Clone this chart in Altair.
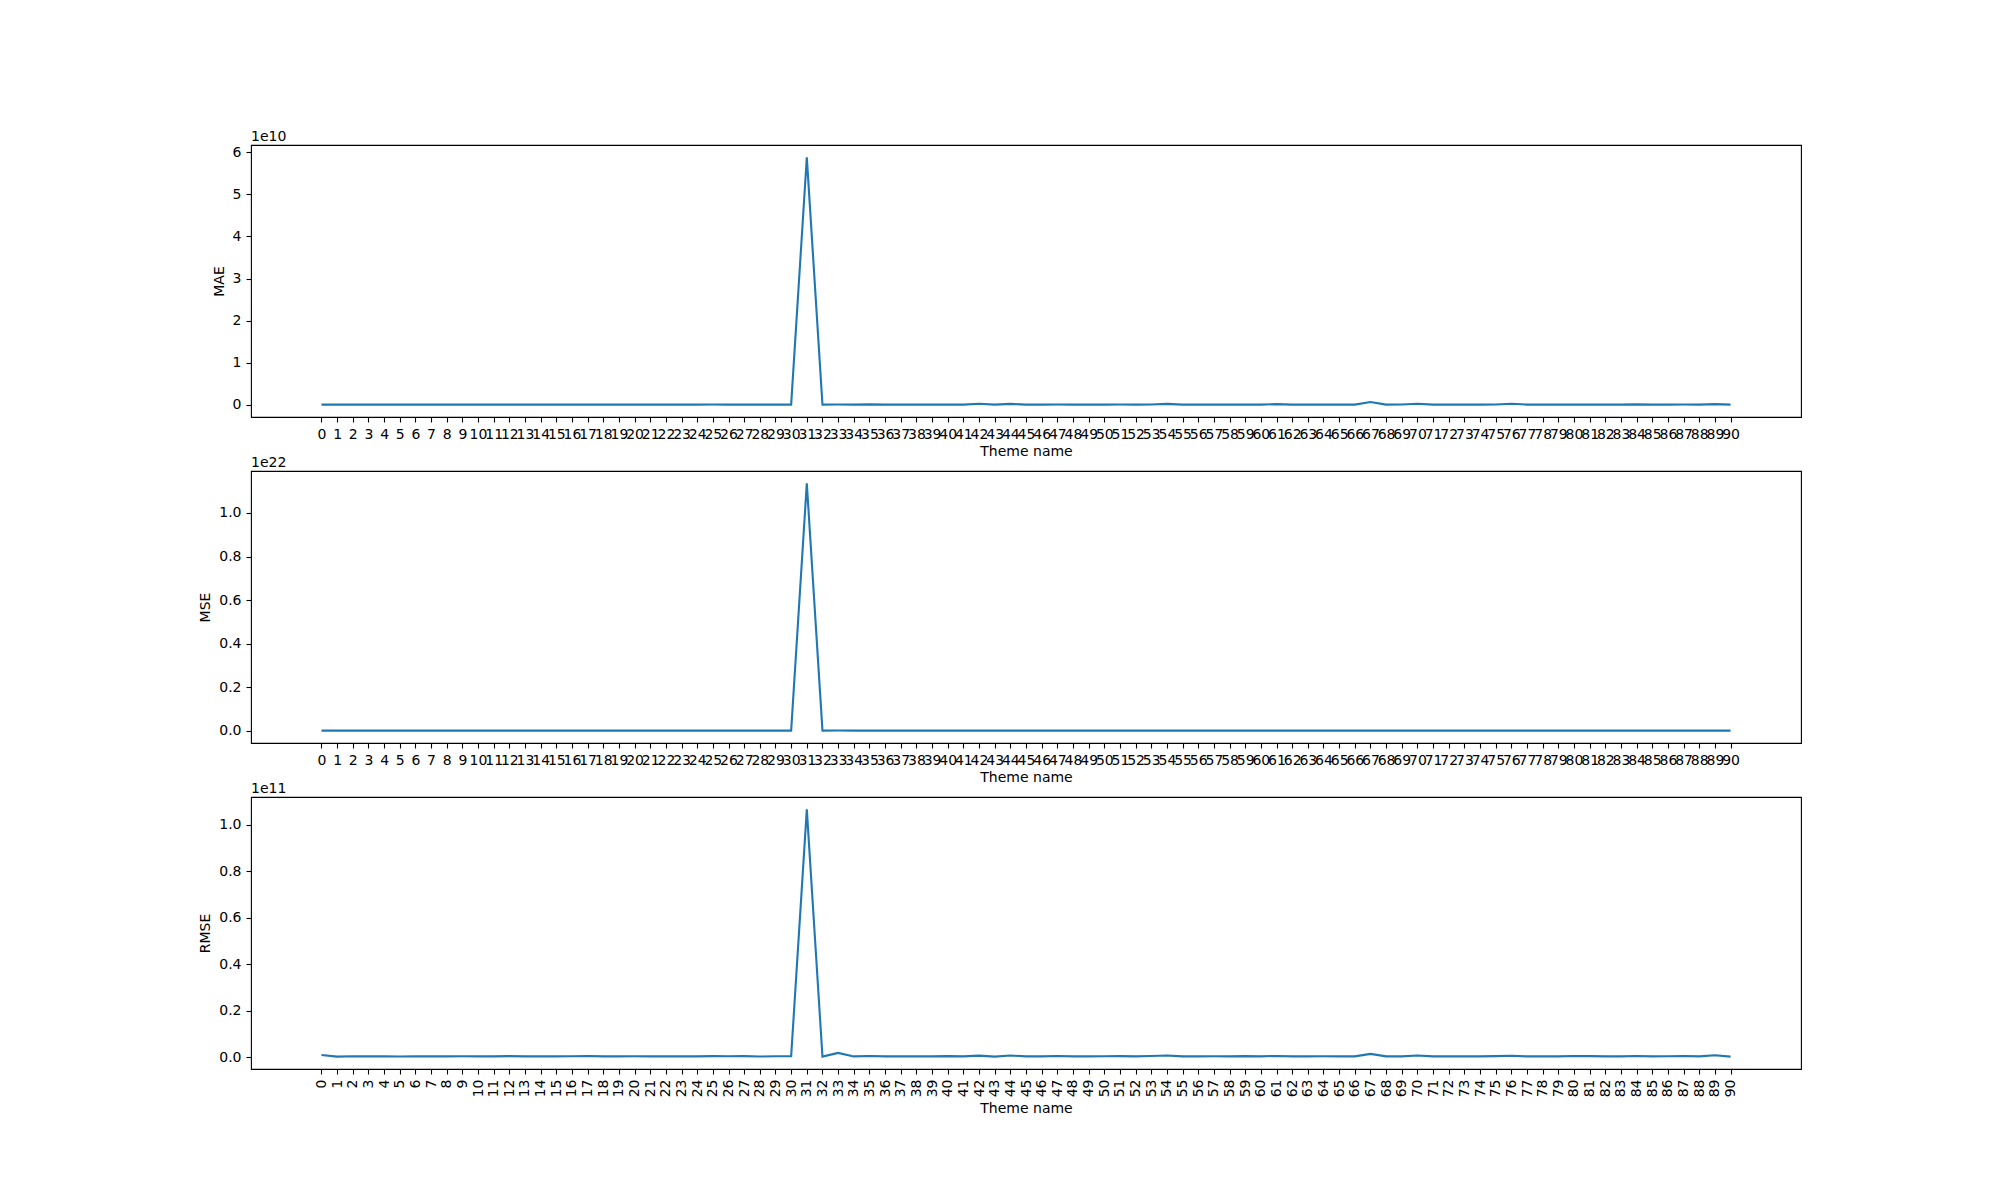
import altair as alt
import pandas as pd

theme = list(range(91))

mae = [
    3e7, 3e7, 3e7, 3e7, 3e7, 3e7, 3e7, 3e7, 3e7, 3e7,
    3e7, 3e7, 3e7, 3e7, 3e7, 3e7, 3e7, 4e7, 3e7, 3e7,
    3e7, 3e7, 3e7, 3e7, 3e7, 6e7, 3e7, 4e7, 3e7, 3e7,
    3e7, 5.88e10, 3e7, 5e7, 4e7, 1e8, 3e7, 3e7, 3e7, 3e7,
    3e7, 4e7, 2.5e8, 3e7, 2e8, 4e7, 4e7, 5e7, 4e7, 4e7,
    4e7, 5e7, 4e7, 5e7, 2e8, 4e7, 3e7, 3e7, 3e7, 3e7,
    3e7, 1.5e8, 4e7, 4e7, 4e7, 4e7, 4e7, 6.5e8, 4e7, 5e7,
    2.5e8, 4e7, 4e7, 4e7, 4e7, 5e7, 2.5e8, 4e7, 4e7, 4e7,
    4e7, 4e7, 4e7, 4e7, 1e8, 4e7, 4e7, 5e7, 4e7, 1.5e8,
    3e7,
]

mse = [
    1.0e18, 9e16, 2.0e17, 1.6e17, 1.6e17, 1.2e17, 1.6e17, 1.6e17, 1.6e17, 2.0e17,
    1.6e17, 1.6e17, 2.5e17, 1.6e17, 1.6e17, 1.6e17, 2.0e17, 3.0e17, 1.6e17, 1.6e17,
    2.0e17, 1.6e17, 1.6e17, 1.6e17, 1.6e17, 2.5e17, 2.0e17, 2.5e17, 1.2e17, 2.0e17,
    2.0e17, 1.136e22, 9e16, 3.6e18, 1.6e17, 3.6e17, 1.6e17, 1.6e17, 1.6e17, 1.6e17,
    2.5e17, 1.6e17, 5.6e17, 9e16, 6.4e17, 1.6e17, 1.6e17, 3.0e17, 1.6e17, 1.6e17,
    2.0e17, 2.5e17, 1.6e17, 3.0e17, 6.4e17, 1.6e17, 1.6e17, 2.0e17, 1.6e17, 2.5e17,
    1.6e17, 3.6e17, 1.6e17, 1.6e17, 2.0e17, 1.6e17, 1.6e17, 2.25e18, 1.6e17, 1.6e17,
    6.4e17, 1.6e17, 1.6e17, 1.6e17, 1.6e17, 2.5e17, 4.9e17, 1.6e17, 1.6e17, 1.6e17,
    3.0e17, 2.5e17, 1.6e17, 1.6e17, 3.0e17, 1.6e17, 2.0e17, 3.0e17, 1.6e17, 8.1e17,
    9e16,
]

rmse = [
    1.0e9, 3e8, 4.5e8, 4e8, 4e8, 3.5e8, 4e8, 4e8, 4e8, 4.5e8,
    4e8, 4e8, 5e8, 4e8, 4e8, 4e8, 4.5e8, 5.5e8, 4e8, 4e8,
    4.5e8, 4e8, 4e8, 4e8, 4e8, 5e8, 4.5e8, 5e8, 3.5e8, 4.5e8,
    4.5e8, 1.066e11, 3e8, 1.9e9, 4e8, 6e8, 4e8, 4e8, 4e8, 4e8,
    5e8, 4e8, 7.5e8, 3e8, 8e8, 4e8, 4e8, 5.5e8, 4e8, 4e8,
    4.5e8, 5e8, 4e8, 5.5e8, 8e8, 4e8, 4e8, 4.5e8, 4e8, 5e8,
    4e8, 6e8, 4e8, 4e8, 4.5e8, 4e8, 4e8, 1.5e9, 4e8, 4e8,
    8e8, 4e8, 4e8, 4e8, 4e8, 5e8, 7e8, 4e8, 4e8, 4e8,
    5.5e8, 5e8, 4e8, 4e8, 5.5e8, 4e8, 4.5e8, 5.5e8, 4e8, 9e8,
    3e8,
]

df = pd.DataFrame({"x": theme, "MAE": mae, "MSE": mse, "RMSE": rmse})

FONT = "DejaVu Sans"
W, H = 1550, 272


def panel(field, scale_exp, tick_vals, fmt, title_x, label_angle, x_title_y, anchor=False):
    vals = df[field]
    lo, hi = float(vals.min()), float(vals.max())
    r = hi - lo
    dom = [lo - 0.05 * r, hi + 0.05 * r]
    div = 10 ** scale_exp
    line = alt.Chart(df).mark_line(color="#1f77b4", strokeWidth=2.1).encode(
        x=alt.X(
            "x:Q",
            scale=alt.Scale(domain=[-4.5, 94.5], nice=False, zero=False),
            axis=alt.Axis(
                values=theme,
                title="Theme name",
                labelAngle=label_angle,
                labelOverlap=False,
                labelFlush=False,
                titleY=x_title_y,
                titleBaseline="top",
            ),
        ),
        y=alt.Y(
            f"{field}:Q",
            scale=alt.Scale(domain=dom, nice=False, zero=False),
            axis=alt.Axis(
                values=[v * div for v in tick_vals],
                labelExpr=f"format(datum.value / 1e{scale_exp}, '{fmt}')",
                title=field,
                titleX=title_x,
                titleY=H / 2,
                titleAlign="center",
                titleBaseline="middle",
                titleAngle=270,
            ),
        ),
    )
    off = alt.Chart(alt.Data(values=[{"t": f"1e{scale_exp}"}])).mark_text(
        align="left", baseline="alphabetic", font=FONT, fontSize=14, color="black"
    ).encode(text="t:N", x=alt.value(0), y=alt.value(-4))
    layers = [line, off]
    if anchor:
        # invisible anchor fixing the page origin (plot area starts at 250,144)
        pin = alt.Chart(alt.Data(values=[{"a": 1}])).mark_rect(opacity=0).encode(
            x=alt.value(-250), x2=alt.value(-249), y=alt.value(-144), y2=alt.value(-143)
        )
        layers.append(pin)
    return alt.layer(*layers).properties(width=W, height=H)


p1 = panel("MAE", 10, [0, 1, 2, 3, 4, 5, 6], "d", -32, 0, 27, anchor=True)
p2 = panel("MSE", 22, [0, 0.2, 0.4, 0.6, 0.8, 1.0], ".1f", -46, 0, 27)
p3 = panel("RMSE", 11, [0, 0.2, 0.4, 0.6, 0.8, 1.0], ".1f", -46, 270, 32)

chart = alt.vconcat(p1, p2, p3, spacing=54, bounds="flush").properties(
    padding=0,
    background="white",
).configure_view(
    stroke="black", strokeWidth=1.1
).configure_axis(
    grid=False,
    domain=False,
    tickColor="black",
    tickWidth=1.1,
    tickSize=5,
    labelPadding=5,
    labelColor="black",
    labelFont=FONT,
    labelFontSize=14,
    titleFont=FONT,
    titleFontSize=14,
    titleFontWeight="normal",
    titleColor="black",
)

chart.save("out.html", embed_options={"renderer": "svg", "actions": False})
